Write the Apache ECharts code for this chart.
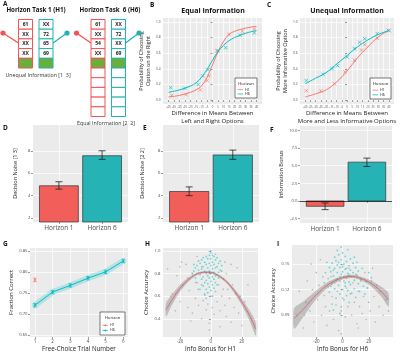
<!DOCTYPE html>
<html><head><meta charset="utf-8">
<script src="https://cdn.jsdelivr.net/npm/echarts@6/dist/echarts.min.js"></script>
<style>html,body{margin:0;padding:0;background:#fff}#c{width:400px;height:354px}</style>
</head><body><div id="c"></div>
<script>
// ================= DATA =================
// Panel A (schematic)
const h1LeftCells = ['61','XX','XX','XX'];
const h1RightCells = ['XX','72','65','69'];
const h6LeftCells = ['61','XX','54','XX'];
const h6RightCells = ['XX','72','XX','69'];
const h1Rows = 5, h6Rows = 10;

// Panel B : Equal information
const bCurveX = [-40,-30,-20,-15,-10,-5,0,5,10,15,20,30,40];
const bCurveH1 = [0.04,0.06,0.10,0.13,0.18,0.29,0.45,0.62,0.75,0.84,0.88,0.92,0.945];
const bCurveH6 = [0.10,0.13,0.18,0.22,0.29,0.39,0.51,0.62,0.70,0.76,0.80,0.855,0.89];
const bPtsH1 = [[-37,0.06],[-24,0.07],[-11,0.13],[-5,0.25],[-3,0.31],[4,0.63],[15,0.84],[27,0.88],[38,0.91]];
const bPtsH6 = [[-38,0.16],[-25,0.15],[-13,0.20],[-9,0.31],[-4,0.39],[5,0.63],[12,0.67],[25,0.83],[38,0.86]];

// Panel C : Unequal information
const cCurveX = [-40,-30,-20,-10,0,10,20,30,40];
const cCurveH1 = [0.04,0.08,0.13,0.23,0.37,0.54,0.68,0.81,0.89];
const cCurveH6 = [0.21,0.28,0.35,0.46,0.57,0.68,0.77,0.84,0.89];
const cPtsH1 = [[-39,0.12],[-25,0.12],[-12,0.21],[-2,0.36],[7,0.51],[14,0.64],[17,0.71],[29,0.79],[40,0.89]];
const cPtsH6 = [[-39,0.25],[-23,0.33],[-14,0.40],[-9,0.44],[0,0.55],[7,0.66],[12,0.74],[17,0.785],[29,0.85],[40,0.89]];

// Bars (D, E, F)
const barCats = ['Horizon 1','Horizon 6'];
const dMean = [4.88, 7.56], dLo = [4.58, 7.24], dHi = [5.24, 8.00];
const eMean = [4.37, 7.63], eLo = [4.00, 7.24], eHi = [4.78, 8.06];
const fMean = [-0.76, 5.50], fLo = [-1.23, 4.88], fHi = [-0.28, 6.07];

// Panel G
const gTrials = [1,2,3,4,5,6];
const gH6 = [0.7205,0.752,0.7677,0.785,0.800,0.826];
const gH6Err = [0.004,0.004,0.004,0.004,0.004,0.004];
const gH1Trial = [1], gH1 = [0.781], gH1Err = [0.004];

// Panel H
const hFitX = [-29,-25,-20,-15,-10,-5,0,5,10,15,20,25,29];
const hFit = [0.48,0.57,0.67,0.74,0.79,0.81,0.81,0.78,0.73,0.65,0.55,0.43,0.31];
const hFitSE = [0.06,0.045,0.03,0.02,0.013,0.01,0.01,0.01,0.013,0.02,0.03,0.045,0.06];
const hCyan = [[0,1.0],[0,0.98],[-1,0.96],[1,0.96],[-3,0.95],[2,0.95],[-5,0.94],[4,0.94],[-2,0.93],[0,0.93],[3,0.92],[-6,0.92],[-8,0.91],[6,0.91],[-4,0.90],[1,0.90],[-1,0.89],[-7,0.89],[5,0.89],[-3,0.88],[2,0.88],[-9,0.87],[7,0.87],[0,0.87],[-5,0.86],[4,0.86],[-2,0.85],[3,0.85],[-6,0.84],[1,0.84],[-8,0.83],[6,0.83],[-1,0.82],[-4,0.82],[2,0.81],[5,0.81],[-3,0.80],[0,0.80],[-7,0.79],[4,0.79],[-2,0.78],[3,0.78],[-5,0.77],[1,0.77],[-1,0.76],[-6,0.75],[2,0.75],[-3,0.74],[0,0.73],[-4,0.72],[3,0.72],[-2,0.71],[1,0.70],[-5,0.69],[-1,0.68],[2,0.67],[-3,0.66],[0,0.65],[-2,0.63],[-4,0.61],[1,0.60],[-10,0.85],[-11,0.82],[-12,0.80],[-10,0.76],[-9,0.72],[-11,0.88],[7,0.82],[5,0.76],[-6,0.70],[-8,0.66],[4,0.70]];
const hGrey = [[-28,0.84],[-25,0.62],[-22,0.78],[-20,0.55],[-18,0.70],[-16,0.88],[-15,0.50],[-14,0.65],[-12,0.80],[-12,0.45],[-10,0.58],[-10,0.72],[-8,0.52],[-7,0.66],[-6,0.40],[-5,0.56],[-4,0.62],[-3,0.48],[-2,0.53],[-1,0.36],[0,0.60],[1,0.50],[2,0.44],[3,0.64],[4,0.55],[5,0.70],[6,0.47],[7,0.60],[8,0.75],[9,0.52],[10,0.42],[11,0.66],[12,0.58],[13,0.37],[14,0.70],[15,0.50],[16,0.62],[18,0.45],[20,0.34],[22,0.55],[24,0.70],[26,0.40],[-26,0.60],[-19,0.90],[-9,0.95],[9,0.90],[17,0.85],[-23,0.47],[19,0.60],[-13,0.38],[6,0.33],[-1,0.30],[-20,0.86],[-6,0.86],[3,0.97],[10,0.80],[-15,0.76],[13,0.88],[-3,0.58],[8,0.66]];

// Panel I
const iFitX = [-37,-30,-20,-10,0,5,10,20,30,35];
const iFit = [0.086,0.097,0.114,0.127,0.134,0.1355,0.135,0.129,0.117,0.108];
const iFitSE = [0.012,0.009,0.005,0.003,0.002,0.002,0.002,0.003,0.006,0.008];
const iCyan = [[-6,0.158],[-3,0.161],[0,0.163],[2,0.159],[-5,0.154],[-1,0.155],[3,0.153],[6,0.156],[-8,0.151],[-4,0.149],[1,0.150],[5,0.148],[8,0.151],[-10,0.146],[-6,0.145],[-2,0.146],[2,0.144],[6,0.143],[10,0.146],[-9,0.141],[-4,0.140],[0,0.141],[4,0.139],[8,0.140],[12,0.142],[-7,0.136],[-2,0.135],[3,0.134],[7,0.135],[11,0.137],[-11,0.133],[-5,0.131],[1,0.130],[5,0.129],[9,0.131],[14,0.132],[-8,0.127],[-3,0.125],[2,0.124],[6,0.126],[12,0.127],[-6,0.121],[0,0.120],[4,0.119],[9,0.121],[16,0.124],[-10,0.117],[-2,0.115],[3,0.113],[7,0.116],[-5,0.110],[1,0.108],[5,0.105],[10,0.111],[-8,0.103],[-1,0.100],[13,0.118],[18,0.130],[15,0.145],[-13,0.140],[-12,0.152],[-4,0.166],[4,0.167],[-1,0.170],[9,0.158],[11,0.152],[-7,0.096],[-2,0.092],[20,0.140],[17,0.115],[-3,0.152],[0,0.147],[3,0.145],[-7,0.143],[-1,0.138],[5,0.137],[-4,0.133],[2,0.128],[-9,0.124],[-14,0.128],[19,0.122],[22,0.134]];
const iGrey = [[-35,0.090],[-33,0.118],[-30,0.075],[-28,0.105],[-27,0.130],[-25,0.095],[-23,0.120],[-22,0.082],[-20,0.140],[-19,0.108],[-18,0.125],[-16,0.090],[-15,0.135],[-14,0.113],[-13,0.100],[-12,0.078],[-11,0.123],[-10,0.095],[-9,0.135],[-8,0.112],[-7,0.085],[-6,0.128],[-5,0.102],[-4,0.118],[-3,0.072],[-2,0.130],[-1,0.095],[0,0.110],[1,0.135],[2,0.088],[3,0.122],[4,0.100],[5,0.145],[6,0.115],[7,0.090],[8,0.128],[9,0.105],[10,0.138],[11,0.080],[12,0.118],[13,0.100],[14,0.130],[15,0.092],[16,0.112],[17,0.140],[18,0.085],[19,0.122],[20,0.105],[21,0.095],[22,0.130],[24,0.112],[25,0.082],[26,0.125],[28,0.100],[29,0.118],[31,0.090],[33,0.108],[35,0.095],[-24,0.150],[23,0.145],[-17,0.155],[-29,0.090],[12,0.075],[-1,0.068]];

// Tick values
const bcTicksX = [-40,-35,-30,-25,-20,-15,-10,-5,0,5,10,15,20,25,30,35,40];
const bcTicksY = [0,0.2,0.4,0.6,0.8,1.0];
const deTicksY = [2,4,6,8];
const fTicksY = [-2.5,0,2.5,5,7.5,10];
const gTicksY = [0.65,0.70,0.75,0.80,0.85];
const hTicksY = [0.4,0.6,0.8,1.0];
const iTicksY = [0.09,0.12,0.15];
const hiTicksX = [-20,0,20];

// ================= STYLE / BUILD =================
const RED = '#F8766D', TEAL = '#00BFC4', BAR_RED = '#F25F5A', BAR_TEAL = '#25B3B6';
const GREEN = '#6AAE3C', BG = '#EBEBEB', TXT = '#4D4D4D', FONT = 'Open Sans';
const chart = echarts.init(document.getElementById('c'), null, {renderer:'canvas', width:400, height:354});

const grids = [
  {left:163, top:18, width:99, height:86},   // B
  {left:300, top:18, width:94, height:86},   // C
  {left:33,  top:125, width:95, height:97},  // D
  {left:163, top:125, width:96, height:97},  // E
  {left:300, top:126, width:92, height:97},  // F
  {left:30,  top:248, width:98, height:90},  // G
  {left:163, top:248, width:95, height:89},  // H
  {left:292, top:245, width:101, height:93}  // I
].map(g => Object.assign({show:true, backgroundColor:BG, borderWidth:0, containLabel:false}, g));

function vAxis(gi, o) {
  return {
    type:'value', gridIndex:gi, min:o.min, max:o.max,
    axisLine:{show:false},
    axisTick:{show:true, length:2, lineStyle:{color:'#333', width:0.5}, customValues:o.ticks},
    axisLabel:{show:true, customValues:o.ticks, fontSize:o.fs||4.5, color:TXT, margin:o.margin||2.5, fontFamily:FONT,
      formatter:o.fmt || (v=>String(v))},
    splitLine:{show:true, lineStyle:{color:'#fff', width:0.7}},
    name:o.name||'', nameLocation:'middle', nameGap:o.gap||10,
    nameTextStyle:{fontSize:o.nfs||6, color:'#222', fontFamily:FONT, lineHeight:(o.nfs||6)+1.5}
  };
}
const catFmt = v => barCats[Math.round(v)-1];

const xAxes = [
  vAxis(0,{min:-45,max:45,ticks:bcTicksX,fs:2.8,margin:2,name:'Difference in Means Between\nLeft and Right Options',gap:4,nfs:6}),
  vAxis(1,{min:-45,max:45,ticks:bcTicksX,fs:2.8,margin:2,name:'Difference in Means Between\nMore and Less Informative Options',gap:4,nfs:6}),
  vAxis(2,{min:0.4,max:2.6,ticks:[1,2],fs:6.5,margin:3,fmt:catFmt}),
  vAxis(3,{min:0.4,max:2.6,ticks:[1,2],fs:6.5,margin:3,fmt:catFmt}),
  vAxis(4,{min:0.4,max:2.6,ticks:[1,2],fs:6.5,margin:3,fmt:catFmt}),
  vAxis(5,{min:0.72,max:6.27,ticks:gTrials,fs:4.5,name:'Free-Choice Trial Number',gap:8,nfs:6.2}),
  vAxis(6,{min:-31,max:30.5,ticks:hiTicksX,fs:4.5,name:'Info Bonus for H1',gap:8,nfs:6.2}),
  vAxis(7,{min:-38.6,max:38.5,ticks:hiTicksX,fs:4.5,name:'Info Bonus for H6',gap:8,nfs:6.2})
];
const yAxes = [
  vAxis(0,{min:-0.05,max:1.05,ticks:bcTicksY,fs:3.2,fmt:v=>v.toFixed(1),name:'Probability of Choosing\nOption on the Right',gap:9,nfs:5.5}),
  vAxis(1,{min:-0.05,max:1.05,ticks:bcTicksY,fs:3.2,fmt:v=>v.toFixed(1),name:'Probability of Choosing\nMore Informative Option',gap:11,nfs:5.5}),
  vAxis(2,{min:1.65,max:10.3,ticks:deTicksY,fs:4.2,name:'Decision Noise [1 3]',gap:14,nfs:5.5}),
  vAxis(3,{min:1.65,max:10.3,ticks:deTicksY,fs:4.2,name:'Decision Noise [2 2]',gap:17,nfs:5.5}),
  vAxis(4,{min:-3.125,max:10.625,ticks:fTicksY,fs:4.2,fmt:v=>v.toFixed(1),name:'Information Bonus',gap:13,nfs:5.5}),
  vAxis(5,{min:0.645,max:0.857,ticks:gTicksY,fs:4.2,fmt:v=>v.toFixed(2),name:'Fraction Correct',gap:14,nfs:6}),
  vAxis(6,{min:0.24,max:1.025,ticks:hTicksY,fs:4.2,fmt:v=>v.toFixed(1),name:'Choice Accuracy',gap:13,nfs:6}),
  vAxis(7,{min:0.0645,max:0.1724,ticks:iTicksY,fs:4.2,fmt:v=>v.toFixed(2),name:'Choice Accuracy',gap:14,nfs:6})
];

const zip = (xs, ys) => xs.map((x,i)=>[x, ys[i]]);
const crossSym = 'path://M0,0L10,10M10,0L0,10';

function curve(ai, xs, ys, color) {
  return {type:'line', xAxisIndex:ai, yAxisIndex:ai, data:zip(xs,ys), smooth:0.35, showSymbol:false,
    lineStyle:{color, width:1}, silent:true, z:4};
}
function crosses(ai, pts, color) {
  return {type:'scatter', xAxisIndex:ai, yAxisIndex:ai, data:pts, symbol:crossSym, symbolSize:3.5,
    itemStyle:{color:'rgba(0,0,0,0)', borderColor:color, borderWidth:0.8}, silent:true, z:4};
}
function bars(ai, means, base, colors, extra) {
  return Object.assign({type:'custom', xAxisIndex:ai, yAxisIndex:ai, silent:true,
    data: means.map((m,i)=>[i+1, m]),
    renderItem:(p, api) => {
      const x = api.value(0), v = api.value(1);
      const a = api.coord([x-0.45, v]), b = api.coord([x+0.45, base]);
      return {type:'rect', shape:{x:a[0], y:Math.min(a[1],b[1]), width:b[0]-a[0], height:Math.abs(b[1]-a[1])},
        style:{fill:colors[p.dataIndex], stroke:'#333', lineWidth:0.7}};
    }, z:2}, extra||{});
}
function errbars(ai, xs, lo, hi, color, cap, width) {
  return {type:'custom', xAxisIndex:ai, yAxisIndex:ai, silent:true,
    data: xs.map((x,i)=>[x, lo[i], hi[i]]),
    renderItem:(p, api) => {
      const x = api.value(0);
      const a = api.coord([x, api.value(1)]), b = api.coord([x, api.value(2)]);
      const st = {stroke:color, lineWidth:width||0.8};
      return {type:'group', children:[
        {type:'line', shape:{x1:a[0], y1:a[1], x2:b[0], y2:b[1]}, style:st},
        {type:'line', shape:{x1:a[0]-cap, y1:a[1], x2:a[0]+cap, y2:a[1]}, style:st},
        {type:'line', shape:{x1:b[0]-cap, y1:b[1], x2:b[0]+cap, y2:b[1]}, style:st}
      ]};
    }, z:5};
}
// confidence ribbon as one polygon through the axis scales
function band(ai, xs, fit, se, color) {
  return {type:'custom', xAxisIndex:ai, yAxisIndex:ai, silent:true, data:[[xs[0], fit[0]]], clip:true,
    renderItem:(p, api) => {
      const up = xs.map((x,i)=>api.coord([x, fit[i]+se[i]]));
      const lo = xs.map((x,i)=>api.coord([x, fit[i]-se[i]])).reverse();
      return {type:'polygon', shape:{points:up.concat(lo), smooth:0.25}, style:{fill:color}};
    }, z:3};
}
function dots(ai, pts, color, size) {
  return {type:'scatter', xAxisIndex:ai, yAxisIndex:ai, data:pts, symbolSize:size||1.8,
    itemStyle:{color}, silent:true, z:2};
}

const series = [
  // B
  curve(0, bCurveX, bCurveH1, RED), curve(0, bCurveX, bCurveH6, TEAL),
  crosses(0, bPtsH1, RED), crosses(0, bPtsH6, TEAL),
  // C
  curve(1, cCurveX, cCurveH1, RED), curve(1, cCurveX, cCurveH6, TEAL),
  crosses(1, cPtsH1, RED), crosses(1, cPtsH6, TEAL),
  // D
  bars(2, dMean, 1.65, [BAR_RED, BAR_TEAL]), errbars(2, [1,2], dLo, dHi, '#222', 3.5),
  // E
  bars(3, eMean, 1.65, [BAR_RED, BAR_TEAL]), errbars(3, [1,2], eLo, eHi, '#222', 3.5),
  // F
  bars(4, fMean, 0, [BAR_RED, BAR_TEAL], {markLine:{symbol:'none', silent:true, label:{show:false},
      lineStyle:{color:'#000', type:'solid', width:0.7}, data:[{yAxis:0}]}}),
  errbars(4, [1,2], fLo, fHi, '#222', 3.5),
  // G
  {type:'line', xAxisIndex:5, yAxisIndex:5, data:zip(gTrials,gH6), showSymbol:false, silent:true,
    lineStyle:{color:'rgba(0,191,196,0.22)', width:6, cap:'round'}, z:2},
  {type:'line', xAxisIndex:5, yAxisIndex:5, data:zip(gTrials,gH6), symbol:'circle', symbolSize:2.2,
    itemStyle:{color:TEAL}, lineStyle:{color:TEAL, width:1}, silent:true, z:3},
  errbars(5, gTrials, gH6.map((v,i)=>v-gH6Err[i]), gH6.map((v,i)=>v+gH6Err[i]), TEAL, 1.8, 0.7),
  {type:'scatter', xAxisIndex:5, yAxisIndex:5, data:zip(gH1Trial,gH1), symbolSize:2.2, itemStyle:{color:RED}, silent:true, z:3},
  errbars(5, gH1Trial, gH1.map((v,i)=>v-gH1Err[i]), gH1.map((v,i)=>v+gH1Err[i]), RED, 1.8, 0.7),
  // H
  dots(6, hGrey, '#A6A6A6', 1.6), dots(6, hCyan, '#4FD0D0', 1.8),
  band(6, hFitX, hFit, hFitSE, 'rgba(110,110,110,0.35)'),
  curve(6, hFitX, hFit, '#E06A6E'),
  // I
  dots(7, iGrey, '#A6A6A6', 1.6), dots(7, iCyan, '#4FD0D0', 1.8),
  band(7, iFitX, iFit, iFitSE, 'rgba(110,110,110,0.35)'),
  curve(7, iFitX, iFit, '#E06A6E')
];

// ---------- graphics: panel A diagram, panel letters, titles, legends ----------
const G = [];
function txt(text, x, y, o) {
  o = o || {};
  G.push({type:'text', silent:true, z:100, style:{text, x, y, fill:o.color||'#111',
    font:(o.bold?'bold ':'') + (o.size||6) + 'px "' + FONT + '"', align:o.align||'left', verticalAlign:o.va||'middle'}});
}
const cellH = 9.7, colW = 14, cellTop = 19.5;
function column(x, cells, rows, color) {
  for (let i=0;i<rows;i++) {
    const y = cellTop + i*cellH;
    G.push({type:'rect', silent:true, z:50, shape:{x, y, width:colW, height:cellH},
      style:{fill: i===cells.length ? GREEN : '#fff', stroke:color, lineWidth:1}});
    if (i < cells.length) txt(cells[i], x+colW/2, y+cellH/2+0.3, {bold:true, size:5, align:'center', color:'#222'});
  }
}
function lever(cx, cy, x2, y2, color) {
  G.push({type:'line', silent:true, z:49, shape:{x1:cx, y1:cy, x2, y2}, style:{stroke:color, lineWidth:1.3}});
  G.push({type:'circle', silent:true, z:51, shape:{cx, cy, r:2.6}, style:{fill:color}});
}
column(18.5, h1LeftCells, h1Rows, '#F05454');
column(39, h1RightCells, h1Rows, '#22B2B2');
column(91, h6LeftCells, h6Rows, '#F05454');
column(111.5, h6RightCells, h6Rows, '#22B2B2');
lever(3, 33, 18.5, 43, '#F05454');
lever(67, 33, 53, 43, '#22B2B2');
lever(76.5, 33, 91, 43, '#F05454');
lever(139, 33, 125.5, 43, '#22B2B2');
txt('Horizon Task 1 (H1)', 36, 10.5, {bold:true, size:6.2, align:'center'});
txt('Horizon Task  6 (H6)', 110, 10.5, {bold:true, size:6.2, align:'center'});
txt('Unequal Information [1  3]', 38, 75, {size:5.3, align:'center', color:'#333'});
txt('Equal Information [2  2]', 106, 123, {size:5.3, align:'center', color:'#333'});

// panel letters
[['A',3,4],['B',150,5],['C',267,5],['D',3,128],['E',143,128],['F',270,130],['G',3,244],['H',145,244],['I',277,244]]
  .forEach(([t,x,y]) => txt(t, x, y, {bold:true, size:6.5}));
// titles
txt('Equal Information', 213, 10.5, {bold:true, size:7, align:'center'});
txt('Unequal Information', 347, 10.5, {bold:true, size:7, align:'center'});

// legends
function legend(x, y, w, h, showPoint) {
  G.push({type:'rect', silent:true, z:60, shape:{x, y, width:w, height:h}, style:{fill:'#fff', stroke:'#222', lineWidth:0.6}});
  txt('Horizon', x+w/2, y+h*0.27, {size:4.2, align:'center'});
  [['H1',RED, 0.58],['H6',TEAL, 0.8]].forEach(([lab, col, fr]) => {
    const yy = y + h*fr;
    G.push({type:'line', silent:true, z:61, shape:{x1:x+2.5, y1:yy, x2:x+8, y2:yy}, style:{stroke:col, lineWidth:0.8}});
    if (showPoint) G.push({type:'circle', silent:true, z:62, shape:{cx:x+5.25, cy:yy, r:0.9}, style:{fill:col}});
    txt(lab, x+10, yy, {size:3.6});
  });
}
legend(235, 78, 22, 20, false);
legend(370, 78, 21, 21, false);
legend(100, 312, 25, 23, true);

chart.setOption({
  animation:false,
  textStyle:{fontFamily:FONT},
  grid:grids, xAxis:xAxes, yAxis:yAxes, series, graphic:{elements:G}
});
</script></body></html>
